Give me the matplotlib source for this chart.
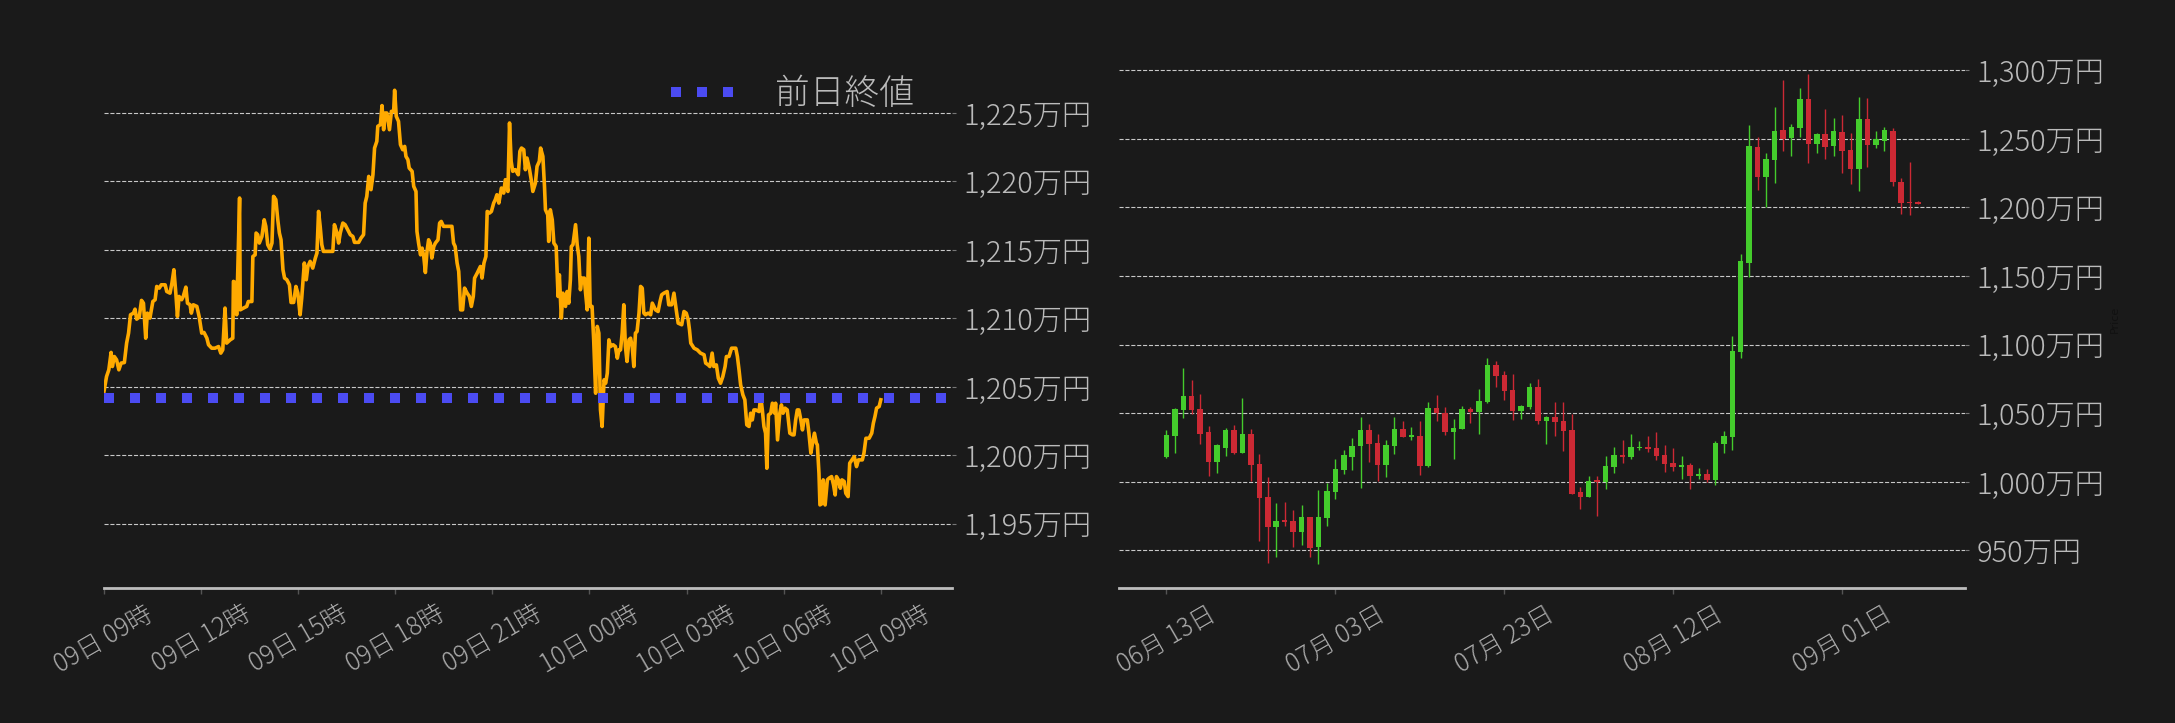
import numpy as np
import pandas as pd
import matplotlib
matplotlib.use("Agg")
import matplotlib.pyplot as plt
import matplotlib.dates as mdates
from matplotlib.ticker import FuncFormatter

# ---- intraday (left): hours after 09日 09時, price in 万円 ----
hours = [
    0.00, 0.08, 0.15, 0.22, 0.26, 0.32, 0.39, 0.46, 0.53, 0.63,
    0.70, 0.76, 0.82, 0.91, 0.96, 1.01, 1.09, 1.16, 1.22, 1.29,
    1.34, 1.42, 1.51, 1.58, 1.63, 1.71, 1.77, 1.89, 1.94, 2.04,
    2.10, 2.16, 2.22, 2.27, 2.32, 2.40, 2.45, 2.53, 2.58, 2.66,
    2.70, 2.76, 2.87, 2.94, 3.02, 3.09, 3.18, 3.23, 3.33, 3.43,
    3.54, 3.61, 3.67, 3.74, 3.79, 3.90, 3.98, 4.00, 4.05, 4.10,
    4.19, 4.21, 4.31, 4.41, 4.46, 4.57, 4.60, 4.67, 4.70, 4.75,
    4.80, 4.88, 4.95, 5.00, 5.06, 5.13, 5.19, 5.24, 5.31, 5.37,
    5.42, 5.47, 5.53, 5.58, 5.65, 5.73, 5.78, 5.86, 5.93, 5.99,
    6.06, 6.11, 6.19, 6.25, 6.30, 6.37, 6.45, 6.53, 6.58, 6.63,
    6.68, 6.73, 6.78, 6.94, 7.07, 7.12, 7.20, 7.25, 7.30, 7.38,
    7.45, 7.53, 7.61, 7.69, 7.74, 7.87, 7.94, 8.02, 8.07, 8.12,
    8.18, 8.25, 8.31, 8.36, 8.43, 8.46, 8.54, 8.59, 8.64, 8.69,
    8.74, 8.82, 8.88, 8.95, 8.98, 9.03, 9.10, 9.16, 9.23, 9.29,
    9.33, 9.39, 9.43, 9.52, 9.57, 9.64, 9.67, 9.72, 9.78, 9.83,
    9.88, 9.93, 9.98, 10.03, 10.08, 10.13, 10.19, 10.24, 10.32, 10.37,
    10.42, 10.49, 10.60, 10.75, 10.80, 10.85, 10.91, 10.96, 11.02, 11.08,
    11.14, 11.22, 11.29, 11.35, 11.41, 11.45, 11.53, 11.58, 11.63, 11.68,
    11.74, 11.80, 11.84, 11.91, 11.97, 12.04, 12.09, 12.14, 12.20, 12.28,
    12.35, 12.40, 12.48, 12.53, 12.58, 12.63, 12.71, 12.80, 12.85, 12.90,
    12.97, 13.02, 13.07, 13.14, 13.20, 13.25, 13.33, 13.38, 13.45, 13.49,
    13.56, 13.61, 13.64, 13.71, 13.74, 13.79, 13.85, 13.90, 13.97, 14.03,
    14.07, 14.13, 14.18, 14.26, 14.31, 14.36, 14.41, 14.44, 14.49, 14.57,
    14.62, 14.67, 14.72, 14.77, 14.84, 14.88, 14.93, 14.98, 15.02, 15.08,
    15.13, 15.19, 15.24, 15.29, 15.34, 15.39, 15.45, 15.50, 15.55, 15.60,
    15.65, 15.73, 15.80, 15.86, 15.91, 15.96, 16.01, 16.06, 16.11, 16.16,
    16.22, 16.27, 16.32, 16.37, 16.42, 16.47, 16.53, 16.58, 16.63, 16.68,
    16.73, 16.81, 16.89, 16.94, 17.04, 17.12, 17.18, 17.23, 17.30, 17.40,
    17.45, 17.54, 17.61, 17.68, 17.74, 17.85, 17.92, 17.99, 18.05, 18.09,
    18.13, 18.23, 18.33, 18.43, 18.54, 18.59, 18.67, 18.72, 18.79, 18.84,
    18.92, 18.98, 19.05, 19.12, 19.19, 19.23, 19.31, 19.39, 19.52, 19.57,
    19.62, 19.67, 19.74, 19.80, 19.86, 19.93, 19.98, 20.03, 20.08, 20.14,
    20.24, 20.29, 20.34, 20.39, 20.44, 20.48, 20.53, 20.60, 20.65, 20.72,
    20.75, 20.81, 20.88, 20.93, 20.98, 21.04, 21.11, 21.19, 21.27, 21.32,
    21.37, 21.42, 21.47, 21.53, 21.58, 21.63, 21.73, 21.78, 21.84, 21.89,
    21.95, 22.01, 22.04, 22.09, 22.12, 22.20, 22.22, 22.28, 22.35, 22.40,
    22.48, 22.54, 22.59, 22.63, 22.69, 22.75, 22.80, 22.87, 22.92, 22.99,
    23.04, 23.11, 23.18, 23.25, 23.31, 23.43, 23.48, 23.54, 23.64, 23.72,
    23.77, 23.82, 23.87, 23.95, 24.00,
]
price = [
    1204.65, 1205.75, 1206.24, 1207.51, 1206.48, 1207.21, 1206.97, 1206.24, 1206.73, 1206.77,
    1208.19, 1208.92, 1210.26, 1210.38, 1210.67, 1209.94, 1210.09, 1211.31, 1211.11, 1208.55,
    1210.38, 1210.02, 1211.23, 1211.36, 1212.33, 1212.21, 1212.45, 1212.45, 1211.96, 1211.84,
    1212.57, 1213.55, 1211.84, 1210.14, 1211.60, 1211.36, 1211.60, 1212.28, 1211.11, 1210.99,
    1210.38, 1210.99, 1210.87, 1210.14, 1208.92, 1208.97, 1208.55, 1208.07, 1207.82, 1207.82,
    1207.94, 1207.46, 1207.70, 1210.75, 1208.19, 1208.43, 1208.55, 1212.70, 1212.62, 1210.26,
    1218.79, 1210.62, 1210.75, 1210.87, 1211.23, 1211.23, 1214.52, 1214.64, 1216.23, 1216.11,
    1215.50, 1215.98, 1217.20, 1216.72, 1215.38, 1215.06, 1215.50, 1218.91, 1218.67, 1217.20,
    1216.23, 1215.74, 1213.55, 1212.94, 1212.82, 1212.45, 1211.16, 1211.16, 1212.33, 1211.84,
    1210.26, 1211.48, 1214.04, 1212.82, 1213.79, 1214.16, 1213.67, 1214.40, 1214.77, 1217.81,
    1216.72, 1215.38, 1214.89, 1214.89, 1214.89, 1216.84, 1216.23, 1215.50, 1216.23, 1216.96,
    1216.84, 1216.47, 1216.11, 1215.98, 1215.55, 1215.55, 1215.86, 1216.11, 1218.42, 1218.91,
    1220.37, 1219.40, 1220.49, 1222.44, 1222.93, 1224.03, 1224.15, 1225.54, 1223.78, 1225.00,
    1225.00, 1223.78, 1225.12, 1225.12, 1226.66, 1224.76, 1224.39, 1222.69, 1222.32, 1222.56,
    1221.83, 1221.59, 1220.98, 1220.74, 1219.64, 1219.27, 1216.35, 1215.50, 1214.64, 1215.13,
    1214.52, 1213.35, 1214.89, 1215.74, 1215.50, 1214.40, 1215.25, 1215.50, 1215.74, 1216.96,
    1217.08, 1216.72, 1216.72, 1216.72, 1215.50, 1215.25, 1214.04, 1213.43, 1210.62, 1210.62,
    1212.21, 1211.84, 1211.60, 1210.87, 1211.60, 1212.94, 1213.30, 1213.55, 1213.79, 1212.94,
    1214.04, 1214.52, 1217.81, 1217.69, 1217.81, 1218.42, 1218.67, 1219.03, 1218.42, 1219.52,
    1219.15, 1220.13, 1219.27, 1224.27, 1221.47, 1220.74, 1220.86, 1220.49, 1222.20, 1222.44,
    1222.32, 1220.86, 1221.71, 1220.98, 1220.13, 1219.27, 1219.88, 1221.10, 1221.47, 1222.44,
    1221.83, 1219.64, 1217.93, 1217.57, 1215.62, 1217.93, 1217.20, 1215.50, 1215.25, 1211.60,
    1213.18, 1210.02, 1211.84, 1210.87, 1211.96, 1211.11, 1212.82, 1215.25, 1215.38, 1216.84,
    1215.38, 1214.52, 1212.09, 1212.94, 1212.94, 1211.84, 1210.62, 1215.86, 1210.87, 1210.87,
    1208.43, 1204.53, 1209.41, 1208.92, 1203.31, 1202.10, 1205.51, 1205.26, 1205.99, 1208.43,
    1207.94, 1208.07, 1207.94, 1207.09, 1207.70, 1207.70, 1208.92, 1210.99, 1207.94, 1206.85,
    1208.43, 1208.55, 1207.94, 1206.48, 1208.92, 1209.04, 1210.38, 1212.33, 1212.21, 1210.38,
    1210.26, 1210.38, 1210.26, 1211.11, 1210.62, 1210.50, 1211.23, 1211.72, 1211.84, 1211.96,
    1210.99, 1210.99, 1211.84, 1210.62, 1209.65, 1209.53, 1210.50, 1210.38, 1209.89, 1209.16,
    1208.19, 1207.82, 1207.70, 1207.46, 1207.34, 1206.73, 1206.60, 1206.48, 1207.46, 1206.48,
    1206.60, 1205.63, 1205.26, 1205.75, 1206.48, 1207.21, 1207.21, 1207.82, 1207.82, 1207.21,
    1206.24, 1205.14, 1204.41, 1204.05, 1202.22, 1202.10, 1203.07, 1202.58, 1203.31, 1203.31,
    1203.19, 1204.29, 1203.31, 1202.10, 1201.61, 1199.05, 1202.95, 1203.07, 1203.80, 1203.07,
    1203.80, 1201.12, 1203.07, 1203.68, 1203.07, 1203.44, 1203.31, 1201.61, 1201.49, 1201.49,
    1202.58, 1203.31, 1203.31, 1202.58, 1201.85, 1202.58, 1202.58, 1201.61, 1200.15, 1200.88,
    1201.61, 1200.88, 1200.76, 1198.69, 1196.37, 1196.49, 1198.20, 1196.37, 1198.20, 1198.32,
    1198.44, 1197.83, 1197.10, 1198.44, 1198.20, 1197.59, 1198.20, 1198.08, 1197.22, 1196.98,
    1199.42, 1199.66, 1199.90, 1199.17, 1199.66, 1199.66, 1200.15, 1201.24, 1201.24, 1201.61,
    1202.34, 1202.83, 1203.44, 1203.56, 1204.05,
]
prev_close = 1204.2
legend_label = "前日終値"

# ---- daily candles (right), 06/13 .. 09/10, 万円 ----
opens = [
    1018.2, 1033.5, 1052.5, 1062.5, 1053.0, 1036.2, 1014.6, 1024.8, 1037.7, 1020.9,
    1034.7, 1012.9, 988.8, 967.2, 972.0, 971.3, 963.6, 974.3, 952.6, 973.8,
    992.7, 1008.7, 1018.2, 1026.0, 1037.7, 1028.2, 1012.1, 1026.0, 1038.4, 1032.6,
    1033.3, 1011.4, 1053.7, 1049.8, 1036.4, 1038.4, 1053.0, 1050.8, 1058.1, 1085.1,
    1077.8, 1066.8, 1051.5, 1054.4, 1069.0, 1044.2, 1047.1, 1044.2, 1037.7, 992.5,
    988.8, 1001.2, 999.7, 1010.6, 1019.4, 1017.9, 1024.5, 1025.2, 1024.5, 1019.4,
    1013.6, 1010.6, 1012.1, 1004.1, 1005.5, 1001.2, 1027.5, 1032.6, 1094.8, 1159.7,
    1244.1, 1222.2, 1234.6, 1256.5, 1250.6, 1257.9, 1279.1, 1246.2, 1253.5, 1244.8,
    1255.0, 1241.9, 1228.0, 1264.5, 1245.5, 1248.5, 1255.7, 1218.5, 1203.9, 1203.9,
]
highs = [
    1037.7, 1054.0, 1082.6, 1074.1, 1063.7, 1040.6, 1027.2, 1039.1, 1041.3, 1060.8,
    1038.4, 1019.9, 1003.4, 984.2, 984.9, 979.4, 983.0, 974.5, 993.9, 998.8,
    1016.5, 1023.0, 1031.8, 1047.1, 1042.0, 1034.7, 1030.4, 1047.1, 1044.2, 1039.8,
    1044.2, 1058.1, 1063.2, 1054.4, 1045.7, 1055.2, 1054.4, 1067.3, 1090.2, 1088.0,
    1080.7, 1078.5, 1055.9, 1071.9, 1074.9, 1047.9, 1058.1, 1058.1, 1049.4, 996.1,
    1004.1, 1004.1, 1018.7, 1025.2, 1030.4, 1034.7, 1029.6, 1033.3, 1036.2, 1026.7,
    1024.5, 1018.7, 1013.6, 1009.9, 1009.2, 1029.6, 1036.9, 1106.5, 1166.3, 1260.1,
    1251.4, 1239.7, 1273.2, 1292.9, 1260.8, 1287.1, 1297.3, 1254.3, 1271.8, 1265.2,
    1267.4, 1254.3, 1280.5, 1279.8, 1255.7, 1258.6, 1257.9, 1221.5, 1233.1, 1204.7,
]
lows = [
    1017.5, 1021.1, 1046.7, 1049.1, 1027.2, 1004.4, 1006.1, 1019.0, 1020.2, 1020.6,
    1000.2, 956.9, 941.1, 944.8, 967.9, 952.6, 953.6, 944.8, 939.7, 967.4,
    987.1, 1005.9, 1008.3, 995.1, 1014.6, 1000.7, 1003.1, 1019.9, 1032.6, 1030.1,
    1005.1, 1010.9, 1044.5, 1034.2, 1016.3, 1038.1, 1043.0, 1035.0, 1057.1, 1069.3,
    1059.8, 1045.2, 1045.9, 1053.2, 1042.3, 1027.7, 1033.5, 1022.6, 991.0, 980.3,
    988.8, 974.9, 994.9, 1006.6, 1013.6, 1016.5, 1023.0, 1021.6, 1015.8, 1007.1,
    1007.6, 1002.1, 994.9, 1002.1, 999.7, 997.5, 1020.9, 1023.0, 1090.4, 1149.5,
    1212.9, 1200.3, 1217.8, 1241.4, 1237.7, 1251.6, 1232.6, 1239.9, 1235.6, 1237.7,
    1225.4, 1217.1, 1212.2, 1229.7, 1243.6, 1241.4, 1215.6, 1195.2, 1194.5, 1202.5,
]
closes = [
    1034.0, 1053.0, 1062.5, 1052.5, 1035.0, 1014.6, 1026.7, 1037.7, 1020.9, 1034.7,
    1012.4, 988.3, 967.2, 971.3, 970.6, 963.6, 974.3, 951.9, 974.3, 993.2,
    1009.2, 1019.4, 1026.0, 1037.7, 1027.7, 1012.1, 1026.7, 1038.4, 1032.6, 1034.0,
    1011.4, 1053.7, 1049.8, 1036.4, 1039.1, 1053.0, 1050.8, 1058.8, 1085.1, 1077.1,
    1066.1, 1051.5, 1055.2, 1069.0, 1044.2, 1047.1, 1043.5, 1036.9, 991.0, 988.8,
    1000.2, 999.7, 1011.4, 1019.4, 1017.9, 1025.2, 1025.2, 1023.8, 1018.7, 1012.9,
    1010.6, 1012.1, 1004.1, 1005.5, 1001.2, 1028.2, 1033.3, 1095.5, 1161.2, 1244.8,
    1222.2, 1235.3, 1255.7, 1249.9, 1258.6, 1279.1, 1246.2, 1253.5, 1244.1, 1255.7,
    1241.1, 1228.0, 1264.5, 1245.5, 1249.9, 1256.5, 1218.5, 1203.2, 1203.2, 1202.5,
]
first_day = "2025-06-13"

BG = "#1a1a1a"
ORANGE = "#ffaa00"
BLUE = "#4b4bf2"
UP = "#44cc2c"
DOWN = "#cc2934"
GRID = "#c8c8c8"

plt.rcParams["font.family"] = ["Noto Sans CJK JP", "DejaVu Sans"]
plt.rcParams["font.weight"] = "light"


def man_yen(v, _pos):
    return f"{int(round(v)):,}万円"


def style_axes(ax):
    ax.set_facecolor(BG)
    for side in ("top", "left", "right"):
        ax.spines[side].set_visible(False)
    ax.spines["bottom"].set_color("#bdbdbd")
    ax.spines["bottom"].set_linewidth(2.0)
    ax.yaxis.tick_right()
    ax.tick_params(axis="y", length=3, width=0.8, color="#777777",
                   labelcolor="#bbbbbb", labelsize=21, pad=5)
    ax.tick_params(axis="x", length=4, width=1, color="#555555",
                   labelcolor="#aaaaaa", labelsize=18, labelrotation=30, pad=5)
    ax.yaxis.grid(True, color=GRID, linestyle="--", linewidth=0.8)
    ax.set_axisbelow(True)
    ax.yaxis.set_major_formatter(FuncFormatter(man_yen))


fig = plt.figure(figsize=(21.75, 7.23), dpi=100, facecolor=BG)
ax1 = fig.add_axes([0.0478, 0.1867, 0.3899, 0.7441])
ax2 = fig.add_axes([0.5143, 0.1867, 0.3893, 0.7441])

# ---- left: intraday line ----
t0 = pd.Timestamp("2025-09-09 09:00")
times = t0 + pd.to_timedelta(hours, unit="h")
style_axes(ax1)
ax1.plot(times, price, color=ORANGE, linewidth=2.6, zorder=3)
ax1.axhline(prev_close, color=BLUE, linewidth=7.2, linestyle=(0, (1, 1.6)),
            label=legend_label, zorder=4)
ax1.set_xlim(t0, t0 + pd.Timedelta(hours=26.2))
ax1.set_ylim(1190.3, 1229.6)
ax1.set_yticks(np.arange(1195, 1226, 5))
ax1.xaxis.set_major_locator(mdates.HourLocator(byhour=range(0, 24, 3)))
ax1.xaxis.set_major_formatter(mdates.DateFormatter("%d日 %H時"))
leg = ax1.legend(loc="center right", bbox_to_anchor=(0.972, 0.918),
                 frameon=False, fontsize=25, borderaxespad=0,
                 handlelength=1.85, handletextpad=1.15)
for txt in leg.get_texts():
    txt.set_color("#bbbbbb")

# ---- right: daily candles ----
dates = pd.date_range(first_day, periods=len(opens), freq="D")
dnum = mdates.date2num(dates.to_pydatetime())
o = np.array(opens)
h = np.array(highs)
l = np.array(lows)
c = np.array(closes)
colors = np.where(c >= o, UP, DOWN)

style_axes(ax2)
ax2.vlines(dnum, l, h, colors=colors, linewidth=1.0, zorder=3)
ax2.bar(dnum, np.maximum(np.abs(c - o), 0.7), bottom=np.minimum(o, c),
        width=0.65, color=colors, zorder=4)
ax2.xaxis_date()
ax2.set_xlim(dnum[0] - 5.66, dnum[80] + 14.59)
ax2.set_ylim(922.5, 1314.8)
ax2.set_yticks(np.arange(950, 1301, 50))
ax2.set_xticks(dnum[::20])
ax2.xaxis.set_major_formatter(mdates.DateFormatter("%m月 %d日"))
ax2.yaxis.set_label_position("right")
ax2.set_ylabel("Price", color="#111111", fontsize=8, family="DejaVu Sans")

fig.savefig("out.png", dpi=100, facecolor=BG)
